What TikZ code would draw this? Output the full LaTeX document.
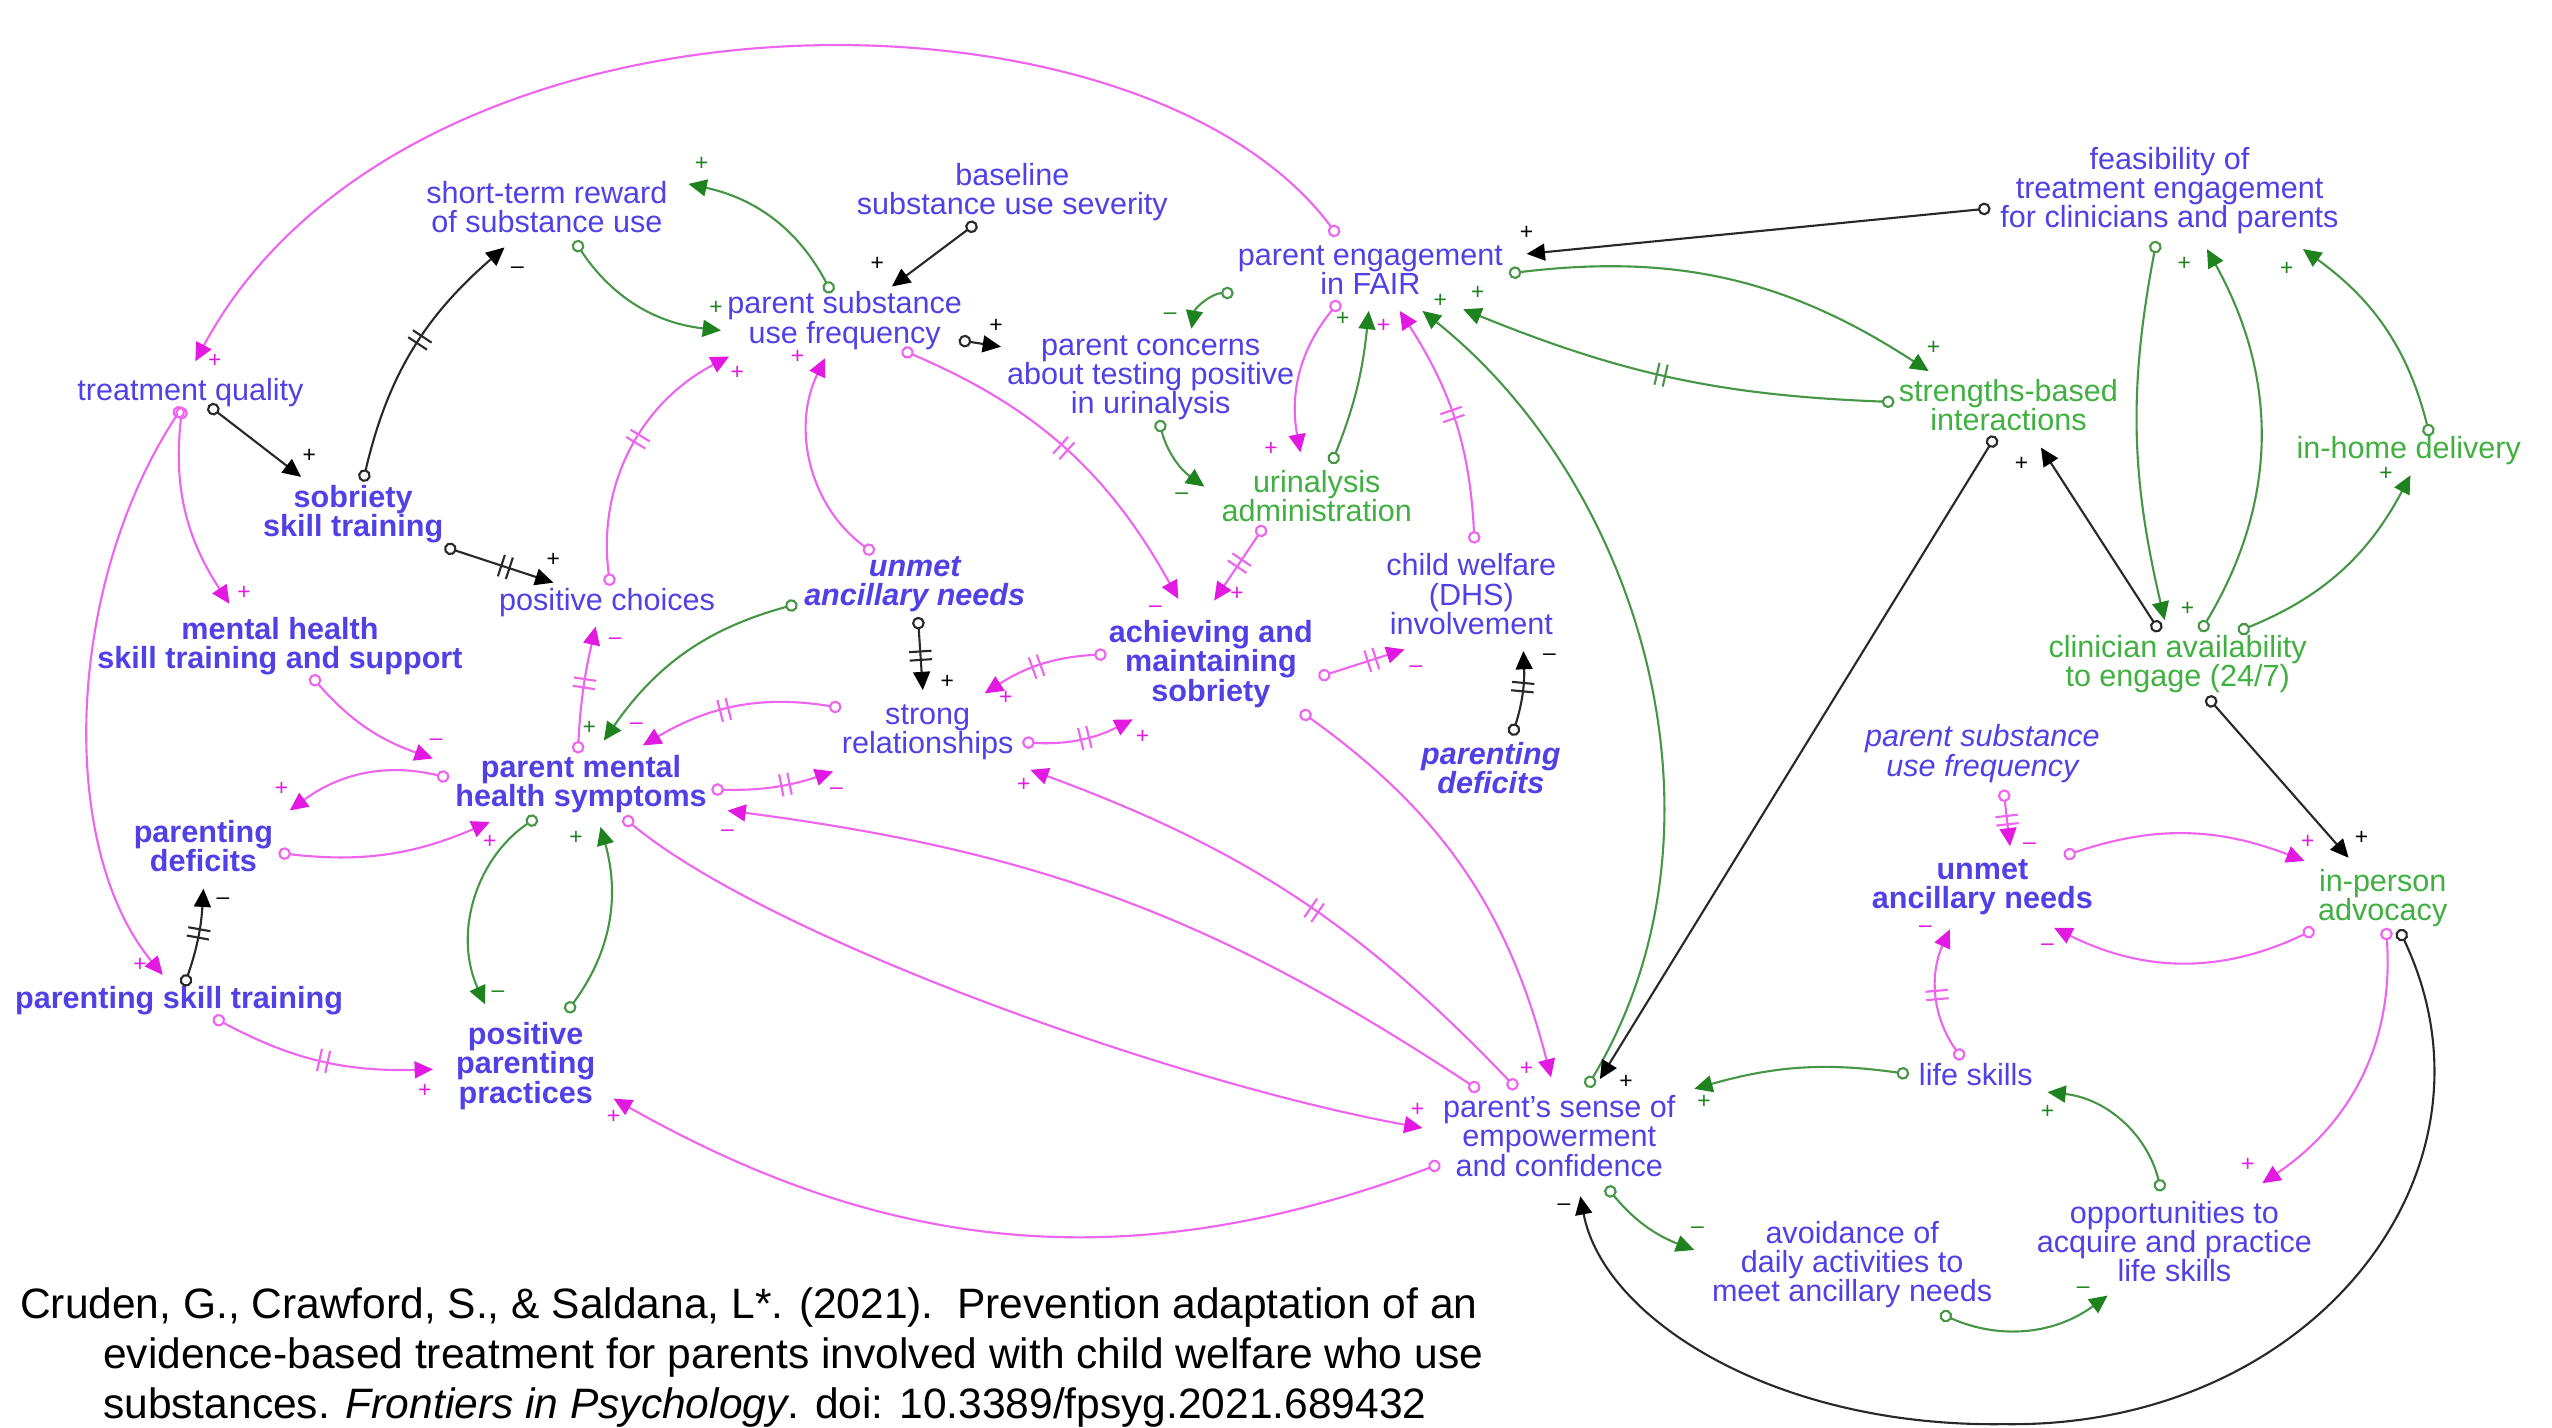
\documentclass[tikz,border=0pt]{standalone}
\usepackage{fontspec}
\setmainfont{Liberation Sans}
\usetikzlibrary{arrows.meta,decorations.markings}
\lineskiplimit=-10pt
\definecolor{tblue}{RGB}{80,64,230}
\definecolor{tgreen}{RGB}{64,176,64}
\definecolor{pline}{RGB}{238,100,238}
\definecolor{phead}{RGB}{225,25,225}
\definecolor{gline}{RGB}{70,150,70}
\definecolor{ghead}{RGB}{30,130,30}
\definecolor{kline}{RGB}{40,40,40}
\tikzset{
  lbl/.style={font=\fontsize{8.7}{8.3}\selectfont, text=tblue, align=center, inner sep=1pt},
  lblb/.style={lbl, font=\fontsize{8.7}{8.3}\selectfont\bfseries},
  lblbi/.style={lbl, font=\fontsize{8.7}{8.3}\selectfont\bfseries\itshape},
  lbli/.style={lbl, font=\fontsize{8.7}{8.3}\selectfont\itshape},
  lblg/.style={lbl, text=tgreen},
  cite/.style={font=\fontsize{12.1}{14.1}\selectfont, align=left, inner sep=0pt, text=black},
  lnk/.style={line width=0.6pt},
  pk/.style={lnk, draw=pline, {Circle[open,length=3.6pt]}-{Triangle[length=5.2pt,width=4.8pt,color=phead]}},
  gk/.style={lnk, draw=gline, {Circle[open,length=3.6pt]}-{Triangle[length=5.2pt,width=4.8pt,color=ghead]}},
  kk/.style={lnk, draw=kline, {Circle[open,length=3.6pt]}-{Triangle[length=5.2pt,width=4.8pt,color=black]}},
  sg/.style={font=\fontsize{6.5}{6.5}\selectfont, inner sep=0pt},
  psg/.style={sg, text=phead},
  gsg/.style={sg, text=ghead},
  ksg/.style={sg, text=black},
  dly/.style 2 args={postaction={decorate,decoration={markings,mark=at position #1 with {\draw[-,solid,line width=0.6pt,draw=#2] (-1.2pt,-3.2pt)--(-1.2pt,3.2pt) (1.2pt,-3.2pt)--(1.2pt,3.2pt);}}}}
}
\begin{document}
\begin{tikzpicture}[x=0.016276cm, y=-0.016276cm]
\useasboundingbox (0,0) rectangle (1568,877);
\fill[white] (0,0) rectangle (1568,877);

% ---------- nodes ----------
\node[lbl] (srw) at (336,127) {short-term reward\\of substance use};
\node[lbl] (bsus) at (622,118) {baseline\\substance use severity};
\node[lbl] (psuf) at (519,197) {parent substance\\use frequency};
\node[lbl] (pef) at (842,166) {parent engagement\\in FAIR};
\node[lbl] (feas) at (1333,117) {feasibility of\\treatment engagement\\for clinicians and parents};
\node[lbl] (tq) at (117,241) {treatment quality};
\node[lblb] (sst) at (217,316) {sobriety\\skill training};
\node[lbl] (pc) at (707,232) {parent concerns\\about testing positive\\in urinalysis};
\node[lblg] (ua) at (809,305) {urinalysis\\administration};
\node[lblg] (sbi) at (1234,249) {strengths-based\\interactions};
\node[lblg] (ihd) at (1480,277) {in-home delivery};
\node[lbl] (posc) at (373,370) {positive choices};
\node[lblb] (mhst) at (172,397) {mental health\\skill training and support};
\node[lblbi] (uan) at (562,359) {unmet\\ancillary needs};
\node[lblb] (ams) at (744,408) {achieving and\\maintaining\\sobriety};
\node[lbl] (cw) at (904,365) {child welfare\\(DHS)\\involvement};
\node[lbl] (sr) at (570,450) {strong\\relationships};
\node[lblb] (pmh) at (357,482) {parent mental\\health symptoms};
\node[lblbi] (pd2) at (916,472) {parenting\\deficits};
\node[lblg] (cae) at (1338,408) {clinician availability\\to engage (24/7)};
\node[lbli] (psuf2) at (1218,463) {parent substance\\use frequency};
\node[lblb] (pd1) at (125,520) {parenting\\deficits};
\node[lblb] (uan2) at (1218,545) {unmet\\ancillary needs};
\node[lblg] (ipa) at (1464,552) {in-person\\advocacy};
\node[lblb] (pst) at (110,615) {parenting skill training};
\node[lblb] (ppp) at (323,655) {positive\\parenting\\practices};
\node[lbl] (pse) at (958,698) {parent's sense of\\empowerment\\and confidence};
\node[lbl] (ls) at (1214,660) {life skills};
\node[lbl] (avd) at (1138,777) {avoidance of\\daily activities to\\meet ancillary needs};
\node[lbl] (opp) at (1336,763) {opportunities to\\acquire and practice\\life skills};
\node[cite, anchor=north west] (cite) at (12,791) {Cruden, G., Crawford, S., \& Saldana, L*. (2021).\ \ Prevention adaptation of an\\\hspace*{0.83cm}evidence-based treatment for parents involved with child welfare who use\\\hspace*{0.83cm}substances. \textit{Frontiers in Psychology}. doi: 10.3389/fpsyg.2021.689432};
\coordinate (arcbot) at (1231,875);

% ---------- connectors ----------
\draw[pk] ([shift={(-20,-21)}]pef.center) .. controls +(-122,-165) and +(130,-242) .. ([shift={(3,-19)}]tq.center) node[psg,pos=1,shift={(12,0)}]{+};
\draw[kk] ([shift={(11,8)}]tq.center) -- node[ksg,pos=1,shift={(5,-13)}]{+} ([shift={(-32,-23)}]sst.center);
\draw[kk, dly={0.55}{kline}] ([shift={(6,-20)}]sst.center) to[bend left=18] node[ksg,pos=1,shift={(8,14)}]{–} ([shift={(-26,25)}]srw.center);
\draw[kk, dly={0.56}{kline}] ([shift={(56,20)}]sst.center) -- node[ksg,pos=1,shift={(0,-14)}]{+} ([shift={(-33,-12)}]posc.center);
\draw[gk] ([shift={(17,21)}]srw.center) to[bend right=25] node[gsg,pos=1,shift={(-3,-14)}]{+} ([shift={(-76,6)}]psuf.center);
\draw[gk] ([shift={(-8,-17)}]psuf.center) to[bend right=25] node[gsg,pos=1,shift={(8,-12)}]{+} ([shift={(87,-14)}]srw.center);
\draw[kk] ([shift={(-22,19)}]bsus.center) -- node[ksg,pos=1,shift={(-9,-14)}]{+} ([shift={(29,-21)}]psuf.center);
\draw[kk] ([shift={(70,12)}]psuf.center) -- node[ksg,pos=1,shift={(-3,-13)}]{+} ([shift={(-92,-19)}]pc.center);
\draw[gk] ([shift={(-84,14)}]pef.center) to[bend right=40] node[gsg,pos=1,shift={(-13,-8)}]{–} ([shift={(25,-30)}]pc.center);
\draw[gk] ([shift={(5,26)}]pc.center) to[bend right=20] node[gsg,pos=1,shift={(-14,6)}]{–} ([shift={(-69,-6)}]ua.center);
\draw[pk] ([shift={(-19,19)}]pef.center) to[bend right=25] node[psg,pos=1,shift={(-18,-2)}]{+} ([shift={(-10,-27)}]ua.center);
\draw[gk] ([shift={(9,-20)}]ua.center) to[bend right=8] node[gsg,pos=1,shift={(-16,5)}]{+} ([shift={(-1,25)}]pef.center);
\draw[pk, dly={0.53}{pline}] ([shift={(2,-31)}]cw.center) to[bend right=15] node[psg,pos=1,shift={(-10,9)}]{+} ([shift={(18,25)}]pef.center);
\draw[gk, dly={0.53}{gline}] ([shift={(-70,-2)}]sbi.center) to[bend left=10] node[gsg,pos=1,shift={(9,-10)}]{+} ([shift={(57,24)}]pef.center);
\draw[gk] ([shift={(85,2)}]pef.center) to[bend left=20] node[gsg,pos=1,shift={(3,-14)}]{+} ([shift={(-49,-21)}]sbi.center);
\draw[kk] ([shift={(-110,11)}]feas.center) -- node[ksg,pos=1,shift={(0,-13)}]{+} ([shift={(96,-10)}]pef.center);
\draw[gk] ([shift={(17,-30)}]pse.center) .. controls +(95,-158) and +(136,109) .. ([shift={(32,25)}]pef.center) node[gsg,pos=1,shift={(11,-6)}]{+};
\draw[kk] ([shift={(-8,19)}]sbi.center) -- node[ksg,pos=1,shift={(16,2)}]{+} ([shift={(25,-35)}]pse.center);
\draw[kk] ([shift={(-11,-20)}]cae.center) -- node[ksg,pos=1,shift={(-12,10)}]{+} ([shift={(20,26)}]sbi.center);
\draw[gk] ([shift={(-8,31)}]feas.center) to[bend right=12] node[gsg,pos=1,shift={(14,-7)}]{+} ([shift={(-8,-27)}]cae.center);
\draw[gk] ([shift={(14,-20)}]cae.center) to[bend right=30] node[gsg,pos=1,shift={(-14,9)}]{+} ([shift={(23,36)}]feas.center);
\draw[gk] ([shift={(13,-9)}]ihd.center) to[bend right=20] node[gsg,pos=1,shift={(-10,12)}]{+} ([shift={(82,36)}]feas.center);
\draw[gk] ([shift={(37,-20)}]cae.center) to[bend right=20] node[gsg,pos=1,shift={(-15,-1)}]{+} ([shift={(1,15)}]ihd.center);
\draw[kk] ([shift={(18,20)}]cae.center) -- node[ksg,pos=1,shift={(8,-12)}]{+} ([shift={(-21,-25)}]ipa.center);
\draw[pk] ([shift={(-5,9)}]tq.center) to[bend right=20] node[psg,pos=1,shift={(9,-7)}]{+} ([shift={(-31,-26)}]mhst.center);
\draw[pk] ([shift={(-5,9)}]tq.center) .. controls +(-72,110) and +(-65,-79) .. ([shift={(-10,-16)}]pst.center) node[psg,pos=1,shift={(-14,-6)}]{+};
\draw[pk] ([shift={(19,18)}]mhst.center) to[bend right=15] node[psg,pos=1,shift={(2,-10)}]{–} ([shift={(-91,-16)}]pmh.center);
\draw[pk] ([shift={(-81,-4)}]pmh.center) to[bend right=25] node[psg,pos=1,shift={(-5,-13)}]{+} ([shift={(53,-22)}]pd1.center);
\draw[pk] ([shift={(46,4)}]pd1.center) to[bend right=15] node[psg,pos=1,shift={(0,12)}]{+} ([shift={(-56,23)}]pmh.center);
\draw[kk, dly={0.55}{kline}] ([shift={(3,-9)}]pst.center) to[bend right=8] node[ksg,pos=1,shift={(12,8)}]{–} ([shift={(0,26)}]pd1.center);
\draw[pk, dly={0.52}{pline}] ([shift={(21,10)}]pst.center) to[bend right=15] node[psg,pos=1,shift={(-5,13)}]{+} ([shift={(-57,2)}]ppp.center);
\draw[gk] ([shift={(-27,20)}]pmh.center) to[bend right=40] node[gsg,pos=1,shift={(8,-6)}]{–} ([shift={(-25,-38)}]ppp.center);
\draw[gk] ([shift={(25,-33)}]ppp.center) to[bend right=26] node[gsg,pos=1,shift={(-15,7)}]{+} ([shift={(12,26)}]pmh.center);
\draw[pk, dly={0.55}{pline}] ([shift={(-2,-19)}]pmh.center) to[bend left=5] node[psg,pos=1,shift={(12,9)}]{–} ([shift={(-7,15)}]posc.center);
\draw[pk, dly={0.55}{pline}] ([shift={(2,-10)}]posc.center) to[bend left=35] node[psg,pos=1,shift={(5,10)}]{+} ([shift={(-71,22)}]psuf.center);
\draw[pk] ([shift={(-25,-19)}]uan.center) to[bend left=40] node[psg,pos=1,shift={(-17,-1)}]{+} ([shift={(-12,23)}]psuf.center);
\draw[pk, dly={0.5}{pline}] ([shift={(35,18)}]psuf.center) to[bend left=19] node[psg,pos=1,shift={(-14,6)}]{–} ([shift={(-20,-40)}]ams.center);
\draw[pk, dly={0.5}{pline}] ([shift={(-32,18)}]ua.center) -- node[psg,pos=1,shift={(14,-4)}]{+} ([shift={(2,-39)}]ams.center);
\draw[pk, dly={0.55}{pline}] ([shift={(-64,-6)}]ams.center) to[bend right=15] node[psg,pos=1,shift={(13,3)}]{+} ([shift={(35,-24)}]sr.center);
\draw[pk, dly={0.55}{pline}] ([shift={(58,6)}]sr.center) to[bend right=15] node[psg,pos=1,shift={(6,11)}]{+} ([shift={(-48,34)}]ams.center);
\draw[kk, dly={0.53}{kline}] ([shift={(2,20)}]uan.center) -- node[ksg,pos=1,shift={(15,-5)}]{+} ([shift={(-3,-26)}]sr.center);
\draw[pk, dly={0.57}{pline}] ([shift={(-53,-15)}]sr.center) to[bend right=20] node[psg,pos=1,shift={(-4,-12)}]{–} ([shift={(38,-24)}]pmh.center);
\draw[pk, dly={0.6}{pline}] ([shift={(80,3)}]pmh.center) to[bend right=10] node[psg,pos=1,shift={(2,12)}]{–} ([shift={(-58,24)}]sr.center);
\draw[pk, dly={0.46}{pline}] ([shift={(-26,-29)}]pse.center) to[bend right=13] node[psg,pos=1,shift={(-4,9)}]{+} ([shift={(63,23)}]sr.center);
\draw[pk] ([shift={(-49,-28)}]pse.center) to[bend right=13] node[psg,pos=1,shift={(0,14)}]{–} ([shift={(90,16)}]pmh.center);
\draw[pk] ([shift={(26,20)}]pmh.center) .. controls +(87,73) and +(-154,-28) .. ([shift={(-84,-5)}]pse.center) node[psg,pos=1,shift={(-3,-11)}]{+};
\draw[pk] ([shift={(-73,17)}]pse.center) to[bend left=25] node[psg,pos=1,shift={(0,11)}]{+} ([shift={(54,20)}]ppp.center);
\draw[pk] ([shift={(55,29)}]ams.center) to[bend left=20] node[psg,pos=1,shift={(-15,-5)}]{+} ([shift={(-5,-36)}]pse.center);
\draw[pk, dly={0.62}{pline}] ([shift={(66,8)}]ams.center) -- node[psg,pos=1,shift={(7,12)}]{–} ([shift={(-41,34)}]cw.center);
\draw[kk, dly={0.58}{kline}] ([shift={(13,-20)}]pd2.center) to[bend right=10] node[ksg,pos=1,shift={(16,4)}]{–} ([shift={(32,35)}]cw.center);
\draw[pk, dly={0.54}{pline}] ([shift={(13,22)}]psuf2.center) -- node[psg,pos=1,shift={(12,0)}]{–} ([shift={(17,-25)}]uan2.center);
\draw[pk] ([shift={(50,-19)}]uan2.center) to[bend left=20] node[psg,pos=1,shift={(2,-12)}]{+} ([shift={(-48,-23)}]ipa.center);
\draw[pk] ([shift={(-42,19)}]ipa.center) to[bend left=26] node[psg,pos=1,shift={(-4,12)}]{–} ([shift={(44,25)}]uan2.center);
\draw[pk, dly={0.51}{pline}] ([shift={(-8,-9)}]ls.center) to[bend left=30] node[psg,pos=1,shift={(-15,0)}]{–} ([shift={(-20,26)}]uan2.center);
\draw[gk] ([shift={(-41,0)}]ls.center) to[bend right=12] node[gsg,pos=1,shift={(6,8)}]{+} ([shift={(83,-29)}]pse.center);
\draw[gk] ([shift={(-8,-31)}]opp.center) to[bend right=35] node[gsg,pos=1,shift={(0,12)}]{+} ([shift={(44,11)}]ls.center);
\draw[gk] ([shift={(29,31)}]pse.center) to[bend right=15] node[gsg,pos=1,shift={(2,-12)}]{–} ([shift={(-97,-9)}]avd.center);
\draw[gk] ([shift={(54,30)}]avd.center) to[bend right=30] node[gsg,pos=1,shift={(-15,-3)}]{–} ([shift={(-41,33)}]opp.center);
\draw[pk] ([shift={(2,18)}]ipa.center) to[bend left=30] node[psg,pos=1,shift={(-9,-11)}]{+} ([shift={(54,-36)}]opp.center);
\draw[kk] ([shift={(10,19)}]ipa.center) .. controls +(71,149) and +(189,3) .. (arcbot) .. controls +(-141,2) and +(14,75) .. ([shift={(13,37)}]pse.center) node[ksg,pos=1,shift={(-10,7)}]{–};
\draw[gk] ([shift={(-72,12)}]uan.center) to[bend right=20] node[gsg,pos=1,shift={(-9,-8)}]{+} ([shift={(14,-27)}]pmh.center);
\end{tikzpicture}
\end{document}
